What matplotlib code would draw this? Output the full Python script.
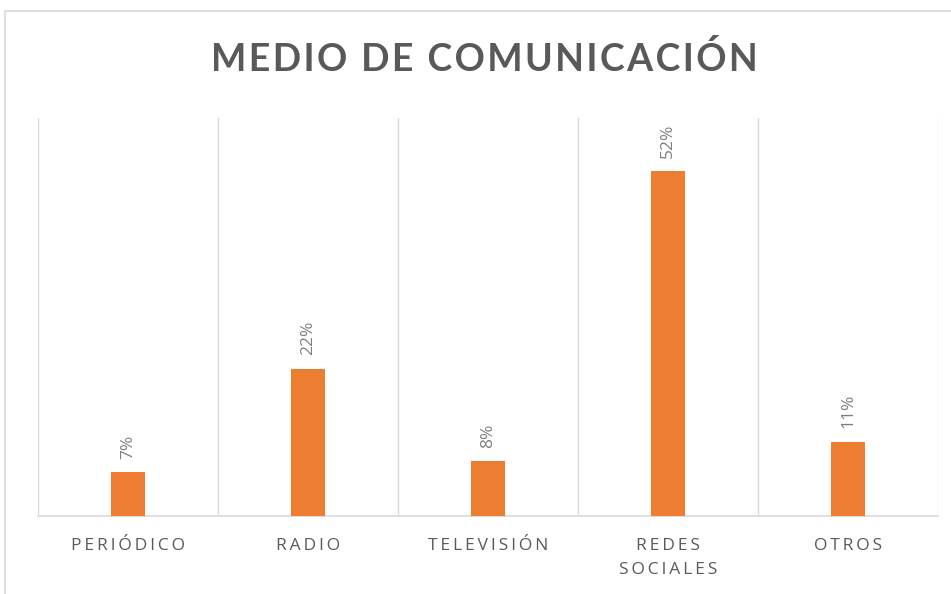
import matplotlib.pyplot as plt
from matplotlib.patches import Rectangle

# datos
categorias = ['PERIÓDICO', 'RADIO', 'TELEVISIÓN', 'REDES\nSOCIALES', 'OTROS']
valores = [6.6, 22.2, 8.3, 52.0, 11.2]
etiquetas = ['7%', '22%', '8%', '52%', '11%']

plt.rcParams['font.family'] = ['Open Sans', 'DejaVu Sans']

fig = plt.figure(figsize=(9.51, 5.94), dpi=100)
W, H = 951, 594

# borde exterior del gráfico
fig.patches.append(Rectangle((5 / W, -0.1), 1.0, (H - 11) / H + 0.1,
                             transform=fig.transFigure, fill=False,
                             edgecolor='#d9d9d9', linewidth=1.2))

ax = fig.add_axes([38 / W, (H - 516) / H, 900 / W, 398 / H])
x = range(len(categorias))
ax.bar(x, valores, width=0.185, color='#ed7d31', zorder=3)

ax.set_xlim(-0.5, len(categorias) - 0.5)
ax.set_ylim(0, 60)

# líneas de división verticales
for b in [i - 0.5 for i in range(len(categorias) + 1)]:
    ax.axvline(b, color='#d9d9d9', linewidth=1, zorder=1)

for s in ['top', 'left', 'right']:
    ax.spines[s].set_visible(False)
ax.spines['bottom'].set_color('#d9d9d9')
ax.spines['bottom'].set_linewidth(1.2)
ax.set_yticks([])
ax.set_xticks(list(x))
ax.set_xticklabels(['\u2009'.join(c).replace('\u2009\n\u2009', '\n') for c in categorias],
                   fontsize=12.5, color='#595959', linespacing=1.65)
ax.tick_params(axis='x', length=0, pad=16)

for xi, v, t in zip(x, valores, etiquetas):
    ax.text(xi, v + 2.0, t, rotation=90, ha='center', va='bottom',
            fontsize=12.5, color='#7f7f7f')

fig.text(484 / W, (H - 59) / H, '\u200a'.join('MEDIO DE COMUNICACIÓN'),
         ha='center', va='center', family=['Lato', 'DejaVu Sans'],
         fontsize=27, fontweight='bold', color='#595959')

fig.savefig('out.png', dpi=100)
